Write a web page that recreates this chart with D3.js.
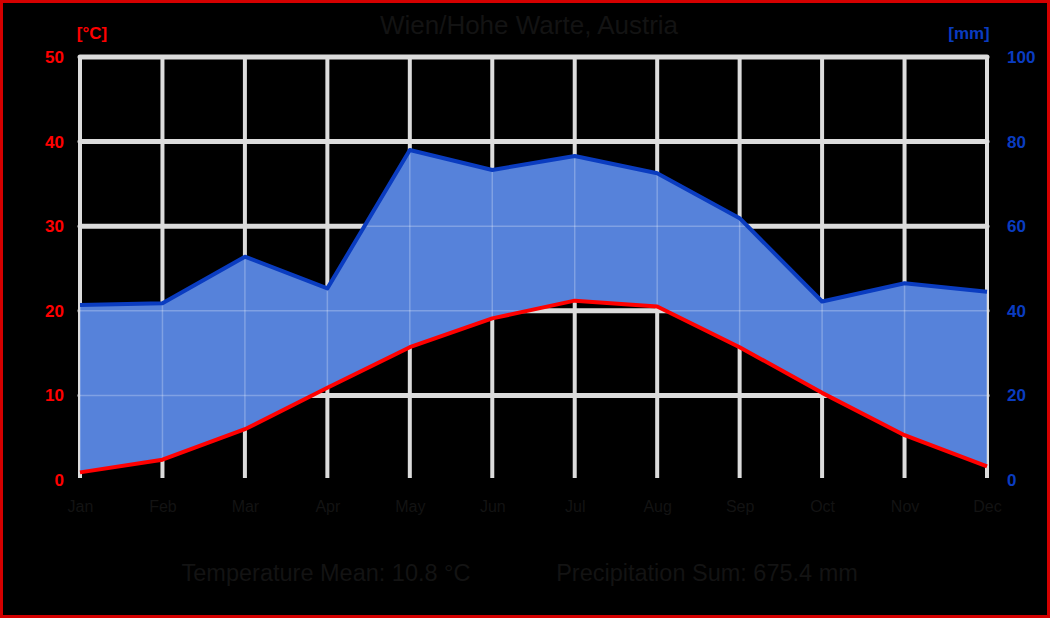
<!DOCTYPE html>
<html><head><meta charset="utf-8">
<script src="https://cdn.jsdelivr.net/npm/d3@7"></script>
<style>html,body{margin:0;padding:0;background:#000;}svg{display:block;}</style>
</head><body><svg id="c" width="1050" height="618"></svg>
<script>
const months = ["Jan","Feb","Mar","Apr","May","Jun","Jul","Aug","Sep","Oct","Nov","Dec"];
const temperature = [0.9, 2.4, 6.0, 10.9, 15.7, 19.1, 21.2, 20.5, 15.7, 10.3, 5.3, 1.6];
const precipitation = [41.4, 41.8, 52.8, 45.3, 78.0, 73.3, 76.6, 72.5, 61.9, 42.2, 46.5, 44.5];
const tempTicks = [0, 10, 20, 30, 40, 50];
const precTicks = [0, 20, 40, 60, 80, 100];
const title = "Wien/Hohe Warte, Austria";
const tempMeanText = "Temperature Mean: 10.8 °C";
const precSumText = "Precipitation Sum: 675.4 mm";

(function(){
const svg = d3.select("#c");
const W = 1050, H = 618;
const pL = 80, pR = 987, pT = 57, pB = 480;
const x = d3.scalePoint().domain(months).range([pL, pR]);
const yT = d3.scaleLinear().domain([0, 50]).range([pB, pT]);
const yP = d3.scaleLinear().domain([0, 100]).range([pB, pT]);
const txt = "#131313";
const font = "Liberation Sans, Arial, sans-serif";

svg.append("rect").attr("x",1.5).attr("y",1.5).attr("width",W-3).attr("height",H-3)
  .attr("fill","#000").attr("stroke","#d40000").attr("stroke-width",3);

const grid = svg.append("g");
grid.selectAll("line.v").data(months).join("line")
  .attr("x1", d=>x(d)).attr("x2", d=>x(d)).attr("y1", pT).attr("y2", pB - 2)
  .attr("stroke","#dcdcdc").attr("stroke-width",4);
grid.selectAll("line.h").data(tempTicks.filter(d=>d>0)).join("line")
  .attr("x1", pL).attr("x2", pR).attr("y1", d=>yT(d)).attr("y2", d=>yT(d))
  .attr("stroke","#dcdcdc").attr("stroke-width",5).attr("stroke-linecap","round");

const data = months.map((m,i)=>({m, t: temperature[i], p: precipitation[i]}));
const area = d3.area().x(d=>x(d.m)).y0(d=>yT(d.t)).y1(d=>yP(d.p));
svg.append("path").datum(data).attr("d", area).attr("fill","#5682da");

const clip = svg.append("clipPath").attr("id","ac");
clip.append("path").datum(data).attr("d", area);
const fg = svg.append("g").attr("clip-path","url(#ac)");
fg.selectAll("line.v").data(months).join("line")
  .attr("x1", d=>x(d)).attr("x2", d=>x(d)).attr("y1", pT).attr("y2", pB)
  .attr("stroke","#ffffff").attr("stroke-opacity",0.25).attr("stroke-width",1.5);
fg.selectAll("line.h").data(tempTicks.filter(d=>d>0)).join("line")
  .attr("x1", pL).attr("x2", pR).attr("y1", d=>yT(d)).attr("y2", d=>yT(d))
  .attr("stroke","#ffffff").attr("stroke-opacity",0.25).attr("stroke-width",1.5);

svg.append("path").datum(data)
  .attr("d", d3.line().x(d=>x(d.m)).y(d=>yP(d.p)))
  .attr("fill","none").attr("stroke","#0a3cc0").attr("stroke-width",4).attr("stroke-linejoin","round");
svg.append("path").datum(data)
  .attr("d", d3.line().x(d=>x(d.m)).y(d=>yT(d.t)))
  .attr("fill","none").attr("stroke","#ff0000").attr("stroke-width",4).attr("stroke-linejoin","round");

const axL = svg.append("g").attr("transform",`translate(${pL},0)`)
  .call(d3.axisLeft(yT).tickValues(tempTicks).tickSize(0).tickPadding(16));
axL.select(".domain").remove();
axL.selectAll("text").attr("fill","#ff0000").attr("font-size",17).attr("font-weight","bold").attr("font-family",font);

const axR = svg.append("g").attr("transform",`translate(${pR},0)`)
  .call(d3.axisRight(yP).tickValues(precTicks).tickSize(0).tickPadding(20));
axR.select(".domain").remove();
axR.selectAll("text").attr("fill","#0a3cc0").attr("font-size",17).attr("font-weight","bold").attr("font-family",font);

const axB = svg.append("g").attr("transform",`translate(0,${pB})`)
  .call(d3.axisBottom(x).tickSize(0).tickPadding(21));
axB.select(".domain").remove();
axB.selectAll("text").attr("fill",txt).attr("font-size",16).attr("font-family",font);

svg.append("text").attr("x",92).attr("y",39).attr("text-anchor","middle")
  .attr("fill","#ff0000").attr("font-size",17).attr("font-weight","bold").attr("font-family",font).text("[°C]");
svg.append("text").attr("x",969).attr("y",39).attr("text-anchor","middle")
  .attr("fill","#0a3cc0").attr("font-size",17).attr("font-weight","bold").attr("font-family",font).text("[mm]");

svg.append("text").attr("x",529).attr("y",34).attr("text-anchor","middle")
  .attr("fill",txt).attr("font-size",26).attr("font-family",font).text(title);

svg.append("text").attr("x",326).attr("y",581).attr("text-anchor","middle")
  .attr("fill",txt).attr("font-size",23.5).attr("font-family",font).text(tempMeanText);
svg.append("text").attr("x",707).attr("y",581).attr("text-anchor","middle")
  .attr("fill",txt).attr("font-size",23.5).attr("font-family",font).text(precSumText);
})();
</script></body></html>
